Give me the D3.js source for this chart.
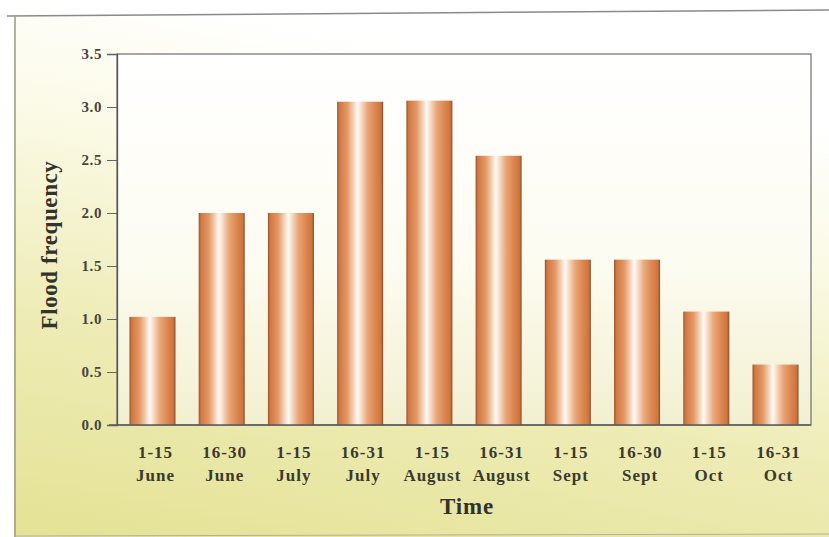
<!DOCTYPE html>
<html>
<head>
<meta charset="utf-8">
<script src="https://cdn.jsdelivr.net/npm/d3@7"></script>
<style>
  html, body { margin: 0; padding: 0; background: #ffffff; }
  svg { display: block; }
</style>
</head>
<body>
<svg id="chart" width="829" height="537"></svg>
<script>
// Half-monthly flood frequency, June to October
const periods = ["1-15", "16-30", "1-15", "16-31", "1-15", "16-31", "1-15", "16-30", "1-15", "16-31"];
const months  = ["June", "June", "July", "July", "August", "August", "Sept", "Sept", "Oct", "Oct"];
const frequency = [1.02, 2.0, 2.0, 3.05, 3.06, 2.54, 1.56, 1.56, 1.07, 0.57];
const yTicks = [0, 0.5, 1.0, 1.5, 2.0, 2.5, 3.0, 3.5];

const svg = d3.select("#chart");
const W = 829, H = 537;
const plot = { left: 117, right: 811, top: 54, bottom: 425 };
const serif = "'Liberation Serif', 'DejaVu Serif', serif";

const defs = svg.append("defs");

// page background: white at the top fading into pale yellow-green
const bg = defs.append("linearGradient").attr("id", "bgGrad")
  .attr("x1", 0.3).attr("y1", 0).attr("x2", 0).attr("y2", 1);
bg.append("stop").attr("offset", "0%").attr("stop-color", "#ffffff");
bg.append("stop").attr("offset", "25%").attr("stop-color", "#fbfae6");
bg.append("stop").attr("offset", "60%").attr("stop-color", "#eeecb6");
bg.append("stop").attr("offset", "100%").attr("stop-color", "#e4e294");

// plot area: lighter wash
const pg = defs.append("linearGradient").attr("id", "plotGrad")
  .attr("x1", 0).attr("y1", 0).attr("x2", 0).attr("y2", 1);
pg.append("stop").attr("offset", "0%").attr("stop-color", "#ffffff");
pg.append("stop").attr("offset", "55%").attr("stop-color", "#fdfcf2");
pg.append("stop").attr("offset", "100%").attr("stop-color", "#f2f0d0");

// cylindrical shading for the bars
const bar = defs.append("linearGradient").attr("id", "barGrad")
  .attr("x1", 0).attr("y1", 0).attr("x2", 1).attr("y2", 0);
[
  ["0%", "#9a532a"], ["5%", "#d27843"], ["22%", "#e39866"], ["36%", "#f5d4bb"],
  ["44%", "#fffaf5"], ["52%", "#f8dcc6"], ["66%", "#e9a678"], ["84%", "#db844d"],
  ["95%", "#cd7640"], ["100%", "#8c4e2a"]
].forEach(([o, c]) => bar.append("stop").attr("offset", o).attr("stop-color", c));

svg.append("rect").attr("x", 0).attr("y", 0).attr("width", W).attr("height", H).attr("fill", "#ffffff");
svg.append("rect").attr("x", 14).attr("y", 14).attr("width", W - 14).attr("height", H - 14)
  .attr("fill", "url(#bgGrad)");

// outer frame
svg.append("line").attr("x1", 7).attr("y1", 16).attr("x2", W).attr("y2", 10)
  .attr("stroke", "#8a8a8a").attr("stroke-width", 1.5);
svg.append("line").attr("x1", 15).attr("y1", 16).attr("x2", 15).attr("y2", H)
  .attr("stroke", "#9a9a8a").attr("stroke-width", 1.5);
svg.append("line").attr("x1", 15).attr("y1", H - 1).attr("x2", W).attr("y2", H - 3)
  .attr("stroke", "#b0b0a0").attr("stroke-width", 1);

// plot area
svg.append("rect").attr("x", plot.left).attr("y", plot.top)
  .attr("width", plot.right - plot.left).attr("height", plot.bottom - plot.top)
  .attr("fill", "url(#plotGrad)")
  .attr("stroke", "#6e6e6e").attr("stroke-width", 1.2);

const x = d3.scaleBand().domain(d3.range(frequency.length))
  .range([plot.left, plot.right]).paddingInner(0.335).paddingOuter(0.18);
const y = d3.scaleLinear().domain([0, 3.5]).range([plot.bottom, plot.top]);

// bars
svg.append("g").selectAll("rect").data(frequency).join("rect")
  .attr("x", (d, i) => x(i))
  .attr("y", d => y(d))
  .attr("width", x.bandwidth())
  .attr("height", d => y(0) - y(d))
  .attr("fill", "url(#barGrad)");

// y axis
const yAxis = svg.append("g").attr("transform", `translate(${plot.left},0)`)
  .call(d3.axisLeft(y).tickValues(yTicks).tickFormat(d3.format(".1f")).tickSize(10).tickPadding(5));
yAxis.select(".domain").attr("stroke", "#555").attr("stroke-width", 1.3);
yAxis.selectAll(".tick line").attr("stroke", "#666");
yAxis.selectAll(".tick text")
  .attr("font-family", serif).attr("font-weight", "bold")
  .attr("font-size", 15).attr("letter-spacing", 0.6).attr("fill", "#45453e");

// baseline
svg.append("line").attr("x1", plot.left - 8).attr("x2", plot.right)
  .attr("y1", plot.bottom).attr("y2", plot.bottom)
  .attr("stroke", "#5a5a5a").attr("stroke-width", 1.3);

// category labels (two lines)
const xl = svg.append("g")
  .attr("font-family", serif).attr("font-weight", "bold")
  .attr("font-size", 17).attr("letter-spacing", 1).attr("fill", "#3a3a2e")
  .attr("text-anchor", "middle");
xl.selectAll("text.p").data(periods).join("text").attr("class", "p")
  .attr("x", (d, i) => x(i) + x.bandwidth() / 2 + 3).attr("y", 458).text(d => d);
xl.selectAll("text.m").data(months).join("text").attr("class", "m")
  .attr("x", (d, i) => x(i) + x.bandwidth() / 2 + 3).attr("y", 481).text(d => d);

// axis titles
svg.append("text").attr("x", 467).attr("y", 514).attr("text-anchor", "middle")
  .attr("font-family", serif).attr("font-weight", "bold")
  .attr("font-size", 23).attr("letter-spacing", 0.8).attr("fill", "#33332a")
  .text("Time");
svg.append("text").attr("transform", "translate(57,245) rotate(-90)").attr("text-anchor", "middle")
  .attr("font-family", serif).attr("font-weight", "bold")
  .attr("font-size", 23).attr("letter-spacing", 0.6).attr("fill", "#33332a")
  .text("Flood frequency");
</script>
</body>
</html>
